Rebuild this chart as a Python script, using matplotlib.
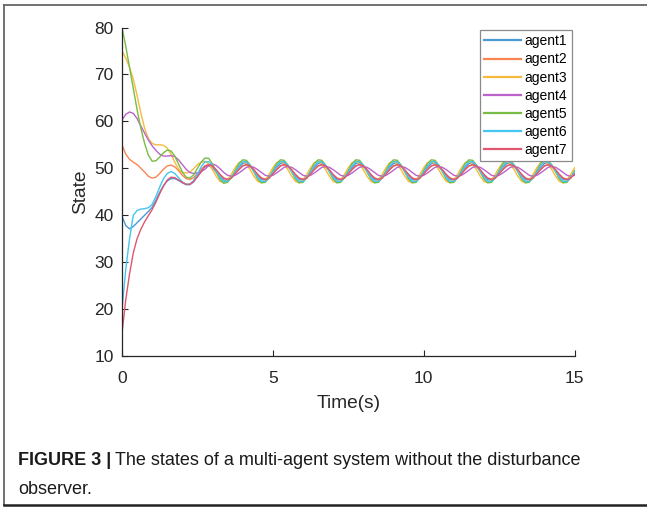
import matplotlib
matplotlib.use("Agg")
import matplotlib.pyplot as plt
from matplotlib.lines import Line2D
import numpy as np

# sample times (s), every 0.125 s
t = np.linspace(0, 15, 121)

agent1 = [
    39.8, 37.8, 37.1, 37.6, 38.4, 39.2, 40.0, 40.8, 41.7, 43.2, 44.9,
    46.3, 47.3, 47.8, 47.8, 47.4, 46.9, 46.5, 46.5, 47.1, 48.3, 49.6,
    50.3, 50.5, 50.1, 49.2, 48.2, 47.5, 47.4, 48.0, 49.1, 50.2,
    51.0, 51.2, 50.6, 49.5, 48.4, 47.6, 47.4, 48.0, 49.1, 50.2,
    51.0, 51.2, 50.6, 49.5, 48.4, 47.6, 47.4, 48.0, 49.1, 50.2,
    51.0, 51.2, 50.6, 49.5, 48.4, 47.6, 47.4, 48.0, 49.1, 50.2,
    51.0, 51.2, 50.6, 49.5, 48.4, 47.6, 47.4, 48.0, 49.1, 50.2,
    51.0, 51.2, 50.6, 49.5, 48.4, 47.6, 47.4, 48.0, 49.1, 50.2,
    51.0, 51.2, 50.6, 49.5, 48.4, 47.6, 47.4, 48.0, 49.1, 50.2,
    51.0, 51.2, 50.6, 49.5, 48.4, 47.6, 47.4, 48.0, 49.1, 50.2,
    51.0, 51.2, 50.6, 49.5, 48.4, 47.6, 47.4, 48.0, 49.1, 50.2,
    51.0, 51.2, 50.6, 49.5, 48.4, 47.6, 47.4, 48.0, 49.1,
]
agent2 = [
    55.0, 53.0, 51.9, 51.3, 50.8, 50.0, 49.2, 48.3, 47.9, 48.1, 48.9,
    49.8, 50.5, 50.7, 50.3, 49.5, 48.5, 47.8, 47.6, 48.0, 48.9, 49.8,
    50.5, 50.7, 50.3, 49.5, 48.6, 47.9, 47.7, 48.1, 48.9, 49.8,
    50.5, 50.7, 50.3, 49.5, 48.6, 47.9, 47.7, 48.1, 48.9, 49.8,
    50.5, 50.7, 50.3, 49.5, 48.6, 47.9, 47.7, 48.1, 48.9, 49.8,
    50.5, 50.7, 50.3, 49.5, 48.6, 47.9, 47.7, 48.1, 48.9, 49.8,
    50.5, 50.7, 50.3, 49.5, 48.6, 47.9, 47.7, 48.1, 48.9, 49.8,
    50.5, 50.7, 50.3, 49.5, 48.6, 47.9, 47.7, 48.1, 48.9, 49.8,
    50.5, 50.7, 50.3, 49.5, 48.6, 47.9, 47.7, 48.1, 48.9, 49.8,
    50.5, 50.7, 50.3, 49.5, 48.6, 47.9, 47.7, 48.1, 48.9, 49.8,
    50.5, 50.7, 50.3, 49.5, 48.6, 47.9, 47.7, 48.1, 48.9, 49.8,
    50.5, 50.7, 50.3, 49.5, 48.6, 47.9, 47.7, 48.1, 48.9,
]
agent3 = [
    75.0, 73.5, 71.5, 69.0, 65.5, 61.8, 58.5, 56.3, 55.3, 55.0, 55.0,
    54.9, 54.3, 53.0, 51.3, 49.8, 49.1, 49.0, 49.2, 49.9, 50.8, 51.3,
    51.5, 50.9, 49.7, 48.3, 47.2, 46.9, 47.5, 48.7, 50.1, 51.2,
    51.5, 50.9, 49.7, 48.3, 47.2, 46.9, 47.5, 48.7, 50.1, 51.2,
    51.5, 50.9, 49.7, 48.3, 47.2, 46.9, 47.5, 48.7, 50.1, 51.2,
    51.5, 50.9, 49.7, 48.3, 47.2, 46.9, 47.5, 48.7, 50.1, 51.2,
    51.5, 50.9, 49.7, 48.3, 47.2, 46.9, 47.5, 48.7, 50.1, 51.2,
    51.5, 50.9, 49.7, 48.3, 47.2, 46.9, 47.5, 48.7, 50.1, 51.2,
    51.5, 50.9, 49.7, 48.3, 47.2, 46.9, 47.5, 48.7, 50.1, 51.2,
    51.5, 50.9, 49.7, 48.3, 47.2, 46.9, 47.5, 48.7, 50.1, 51.2,
    51.5, 50.9, 49.7, 48.3, 47.2, 46.9, 47.5, 48.7, 50.1, 51.2,
    51.5, 50.9, 49.7, 48.3, 47.2, 46.9, 47.5, 48.7, 50.1,
]
agent4 = [
    60.3, 61.5, 62.0, 61.7, 60.6, 59.0, 57.5, 56.0, 54.8, 53.8, 53.0,
    52.6, 52.6, 52.7, 52.5, 51.8, 50.8, 49.8, 49.1, 48.9, 49.0, 49.3,
    49.8, 50.6, 50.9, 50.6, 49.9, 49.1, 48.5, 48.3, 48.5, 49.0,
    49.6, 50.2, 50.4, 50.2, 49.7, 49.1, 48.5, 48.3, 48.5, 49.0,
    49.6, 50.2, 50.4, 50.2, 49.7, 49.1, 48.5, 48.3, 48.5, 49.0,
    49.6, 50.2, 50.4, 50.2, 49.7, 49.1, 48.5, 48.3, 48.5, 49.0,
    49.6, 50.2, 50.4, 50.2, 49.7, 49.1, 48.5, 48.3, 48.5, 49.0,
    49.6, 50.2, 50.4, 50.2, 49.7, 49.1, 48.5, 48.3, 48.5, 49.0,
    49.6, 50.2, 50.4, 50.2, 49.7, 49.1, 48.5, 48.3, 48.5, 49.0,
    49.6, 50.2, 50.4, 50.2, 49.7, 49.1, 48.5, 48.3, 48.5, 49.0,
    49.6, 50.2, 50.4, 50.2, 49.7, 49.1, 48.5, 48.3, 48.5, 49.0,
    49.6, 50.2, 50.4, 50.2, 49.7, 49.1, 48.5, 48.3, 48.5,
]
agent5 = [
    80.0, 76.0, 71.5, 67.0, 62.5, 58.5, 55.3, 52.8, 51.5, 51.6, 52.4,
    53.3, 53.9, 53.7, 52.6, 50.9, 49.2, 48.1, 47.9, 48.6, 50.0, 51.3,
    52.2, 52.1, 50.9, 49.2, 47.6, 46.8, 47.0, 48.0, 49.5, 51.0,
    51.8, 51.7, 50.7, 49.2, 47.7, 46.9, 47.0, 48.0, 49.5, 51.0,
    51.8, 51.7, 50.7, 49.2, 47.7, 46.9, 47.0, 48.0, 49.5, 51.0,
    51.8, 51.7, 50.7, 49.2, 47.7, 46.9, 47.0, 48.0, 49.5, 51.0,
    51.8, 51.7, 50.7, 49.2, 47.7, 46.9, 47.0, 48.0, 49.5, 51.0,
    51.8, 51.7, 50.7, 49.2, 47.7, 46.9, 47.0, 48.0, 49.5, 51.0,
    51.8, 51.7, 50.7, 49.2, 47.7, 46.9, 47.0, 48.0, 49.5, 51.0,
    51.8, 51.7, 50.7, 49.2, 47.7, 46.9, 47.0, 48.0, 49.5, 51.0,
    51.8, 51.7, 50.7, 49.2, 47.7, 46.9, 47.0, 48.0, 49.5, 51.0,
    51.8, 51.7, 50.7, 49.2, 47.7, 46.9, 47.0, 48.0, 49.5,
]
agent6 = [
    19.8, 28.5, 35.0, 40.0, 41.0, 41.3, 41.4, 41.6, 42.3, 44.0, 46.0,
    47.8, 48.9, 49.3, 48.9, 48.0, 47.1, 46.6, 46.6, 47.4, 48.8, 50.3,
    51.4, 51.4, 50.6, 49.4, 48.0, 47.2, 47.2, 48.0, 49.2, 50.5,
    51.4, 51.4, 50.6, 49.4, 48.0, 47.2, 47.2, 48.0, 49.2, 50.5,
    51.4, 51.4, 50.6, 49.4, 48.0, 47.2, 47.2, 48.0, 49.2, 50.5,
    51.4, 51.4, 50.6, 49.4, 48.0, 47.2, 47.2, 48.0, 49.2, 50.5,
    51.4, 51.4, 50.6, 49.4, 48.0, 47.2, 47.2, 48.0, 49.2, 50.5,
    51.4, 51.4, 50.6, 49.4, 48.0, 47.2, 47.2, 48.0, 49.2, 50.5,
    51.4, 51.4, 50.6, 49.4, 48.0, 47.2, 47.2, 48.0, 49.2, 50.5,
    51.4, 51.4, 50.6, 49.4, 48.0, 47.2, 47.2, 48.0, 49.2, 50.5,
    51.4, 51.4, 50.6, 49.4, 48.0, 47.2, 47.2, 48.0, 49.2, 50.5,
    51.4, 51.4, 50.6, 49.4, 48.0, 47.2, 47.2, 48.0, 49.2,
]
agent7 = [
    14.9, 22.0, 27.5, 32.0, 35.0, 37.0, 38.6, 39.9, 41.2, 42.8, 44.6,
    46.2, 47.5, 48.1, 48.0, 47.5, 47.0, 46.6, 46.6, 47.2, 48.2, 49.2,
    50.5, 50.8, 50.5, 49.7, 48.7, 47.9, 47.6, 47.9, 48.8, 49.7,
    50.5, 50.8, 50.5, 49.7, 48.7, 47.9, 47.6, 47.9, 48.8, 49.7,
    50.5, 50.8, 50.5, 49.7, 48.7, 47.9, 47.6, 47.9, 48.8, 49.7,
    50.5, 50.8, 50.5, 49.7, 48.7, 47.9, 47.6, 47.9, 48.8, 49.7,
    50.5, 50.8, 50.5, 49.7, 48.7, 47.9, 47.6, 47.9, 48.8, 49.7,
    50.5, 50.8, 50.5, 49.7, 48.7, 47.9, 47.6, 47.9, 48.8, 49.7,
    50.5, 50.8, 50.5, 49.7, 48.7, 47.9, 47.6, 47.9, 48.8, 49.7,
    50.5, 50.8, 50.5, 49.7, 48.7, 47.9, 47.6, 47.9, 48.8, 49.7,
    50.5, 50.8, 50.5, 49.7, 48.7, 47.9, 47.6, 47.9, 48.8, 49.7,
    50.5, 50.8, 50.5, 49.7, 48.7, 47.9, 47.6, 47.9, 48.8,
]

names = ["agent1", "agent2", "agent3", "agent4", "agent5", "agent6", "agent7"]
series = [agent1, agent2, agent3, agent4, agent5, agent6, agent7]
colors = ["#4a9ad8", "#fa8550", "#f6bb3c", "#bb62cc", "#78bb45", "#45c6f0", "#e0566f"]

plt.rcParams["font.family"] = ["Liberation Sans", "DejaVu Sans"]

W, H = 647, 507
fig = plt.figure(figsize=(W / 100, H / 100), dpi=100)
ax = fig.add_axes([122 / W, 1 - 356 / H, 452.5 / W, 328.5 / H])

for name, y, c in zip(names, series, colors):
    ax.plot(t, y, color=c, lw=1.0, label=name)

ax.set_xlim(0, 15)
ax.set_ylim(10, 80)
ax.set_xticks([0, 5, 10, 15])
ax.set_yticks(np.arange(10, 81, 10))
for side in ("top", "right"):
    ax.spines[side].set_visible(False)
for side in ("left", "bottom"):
    ax.spines[side].set_color("#262626")
    ax.spines[side].set_linewidth(0.9)
ax.tick_params(direction="in", length=4, width=0.8, colors="#262626", labelsize=12.5)
ax.tick_params(axis="x", pad=11)
ax.tick_params(axis="y", pad=6)
ax.set_xlabel("Time(s)", fontsize=13.75, color="#262626", labelpad=6)
ax.set_ylabel("State", fontsize=13.75, color="#262626")

leg = ax.legend(loc="upper right", bbox_to_anchor=(0.994, 0.992), borderaxespad=0,
                fontsize=10, handlelength=2.7, handletextpad=0.25,
                labelspacing=0.3, borderpad=0.3, fancybox=False, framealpha=1)
leg.get_frame().set_edgecolor("#8a8a8a")
leg.get_frame().set_linewidth(0.9)
for h in leg.get_lines():
    h.set_linewidth(1.6)

# frame around the figure panel
fig.add_artist(Line2D([4 / W, 4 / W], [1 - 4.5 / H, 1 - 505 / H], transform=fig.transFigure,
                      color="#666666", lw=1.3))
fig.add_artist(Line2D([4 / W, 1], [1 - 4.5 / H, 1 - 4.5 / H], transform=fig.transFigure,
                      color="#666666", lw=1.3))
fig.add_artist(Line2D([4 / W, 1], [1 - 505 / H, 1 - 505 / H], transform=fig.transFigure,
                      color="#222222", lw=1.8))

# caption
cap_size = 12.95
bold = fig.text(18 / W, 1 - 465 / H, "FIGURE 3 |", fontsize=cap_size, fontweight="bold",
                va="baseline", color="#1a1a1a")
fig.canvas.draw()
bb = bold.get_window_extent()
fig.text((bb.x1 + 4) / W, 1 - 465 / H,
         "The states of a multi-agent system without the disturbance",
         fontsize=cap_size, va="baseline", color="#1a1a1a")
fig.text(18 / W, 1 - 494 / H, "observer.", fontsize=cap_size,
         va="baseline", color="#1a1a1a")

fig.savefig("out.png", dpi=100)
